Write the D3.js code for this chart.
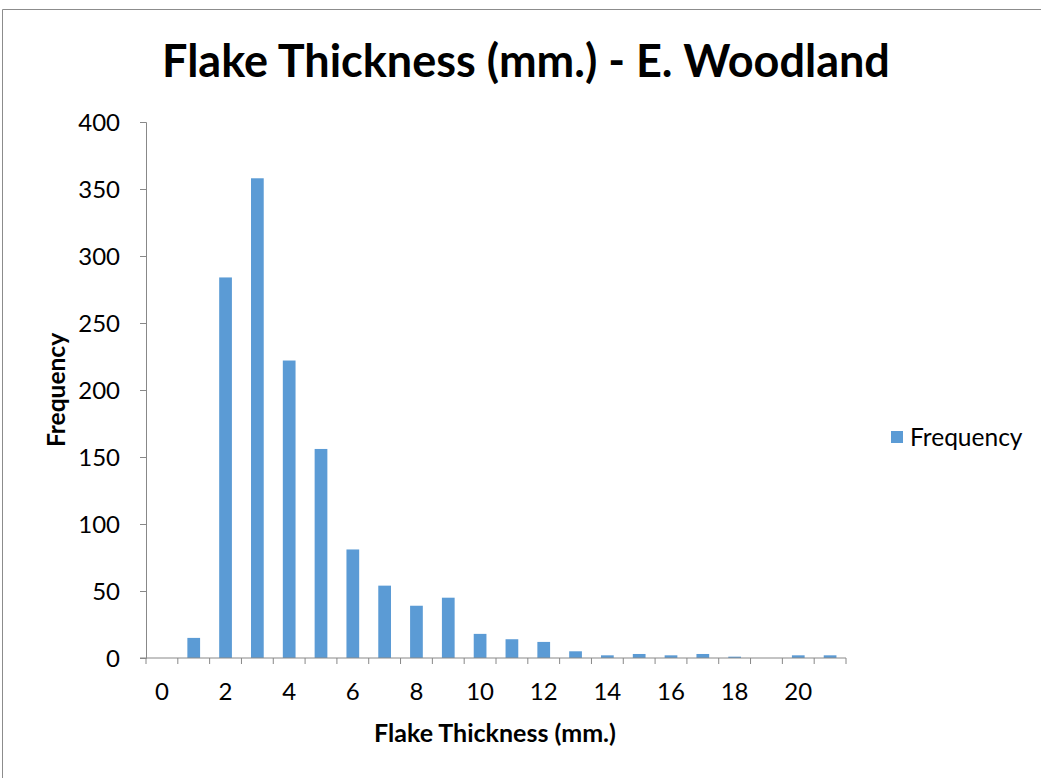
<!DOCTYPE html>
<html><head><meta charset="utf-8">
<script src="https://cdn.jsdelivr.net/npm/d3@7"></script>
<style>body{margin:0;background:#fff}svg{display:block}text{font-family:Lato,"Open Sans",sans-serif}</style>
</head><body>
<svg id="c" width="1041" height="778"></svg>
<script>
const categories = d3.range(0, 22);
const frequency = [0, 15, 284, 358, 222, 156, 81, 54, 39, 45, 18, 14, 12, 5, 2, 3, 2, 3, 1, 0, 2, 2];
const xTickLabels = [0, 2, 4, 6, 8, 10, 12, 14, 16, 18, 20];
const yTicks = [0, 50, 100, 150, 200, 250, 300, 350, 400];
const title = "Flake Thickness (mm.) - E. Woodland";
const xTitle = "Flake Thickness (mm.)";
const yTitle = "Frequency";
const seriesName = "Frequency";

const svg = d3.select("#c");
const m = {l: 146, r: 846, t: 122, b: 658};
svg.append("path").attr("d", "M2.5,778V9.5H1041").attr("fill", "none").attr("stroke", "#8c8c8c").attr("stroke-width", 1);

const x = d3.scaleBand().domain(categories).range([m.l, m.r]).paddingInner(0.6).paddingOuter(0.3);
const xb = d3.scaleBand().domain(categories).range([m.l, m.r]);
const y = d3.scaleLinear().domain([0, 400]).range([m.b, m.t]);

// y axis
const ya = svg.append("g").attr("transform", `translate(${m.l},0)`)
  .call(d3.axisLeft(y).tickValues(yTicks).tickSize(6).tickPadding(6));
ya.select(".domain").attr("stroke", "#888");
ya.selectAll(".tick line").attr("stroke", "#888");
ya.selectAll(".tick text").attr("font-size", 24).attr("fill", "#000").attr("x", -26).attr("dy", "0.36em");

// bars
svg.append("g").selectAll("rect").data(categories).join("rect")
  .attr("x", d => x(d)).attr("width", x.bandwidth())
  .attr("y", (d, i) => y(frequency[i])).attr("height", (d, i) => m.b - y(frequency[i]))
  .attr("fill", "#5B9BD5");

// x axis
const xa = svg.append("g").attr("transform", `translate(0,${m.b})`);
xa.append("line").attr("x1", m.l - 6).attr("x2", m.r).attr("stroke", "#888");
const bounds = categories.map(c => xb(c)).concat([m.r]);
xa.selectAll("line.t").data(bounds).join("line").attr("class", "t")
  .attr("x1", d => d).attr("x2", d => d).attr("y1", 0).attr("y2", 6).attr("stroke", "#888");
xa.selectAll("text").data(xTickLabels).join("text")
  .attr("x", d => xb(d) + xb.bandwidth() / 2).attr("y", 42)
  .attr("text-anchor", "middle").attr("font-size", 24).attr("fill", "#000").text(d => d);

// titles
svg.append("text").attr("x", 526).attr("y", 77).attr("text-anchor", "middle")
  .attr("font-size", 45).attr("font-weight", "bold").text(title);
svg.append("text").attr("x", 495).attr("y", 742).attr("text-anchor", "middle")
  .attr("font-size", 25).attr("font-weight", "bold").text(xTitle);
svg.append("text").attr("transform", "translate(65,390) rotate(-90)").attr("text-anchor", "middle")
  .attr("font-size", 24.5).attr("font-weight", "bold").text(yTitle);

// legend
svg.append("rect").attr("x", 891).attr("y", 431).attr("width", 12).attr("height", 12).attr("fill", "#5B9BD5");
svg.append("text").attr("x", 910).attr("y", 446).attr("font-size", 24.5).text(seriesName);
</script>
</body></html>
